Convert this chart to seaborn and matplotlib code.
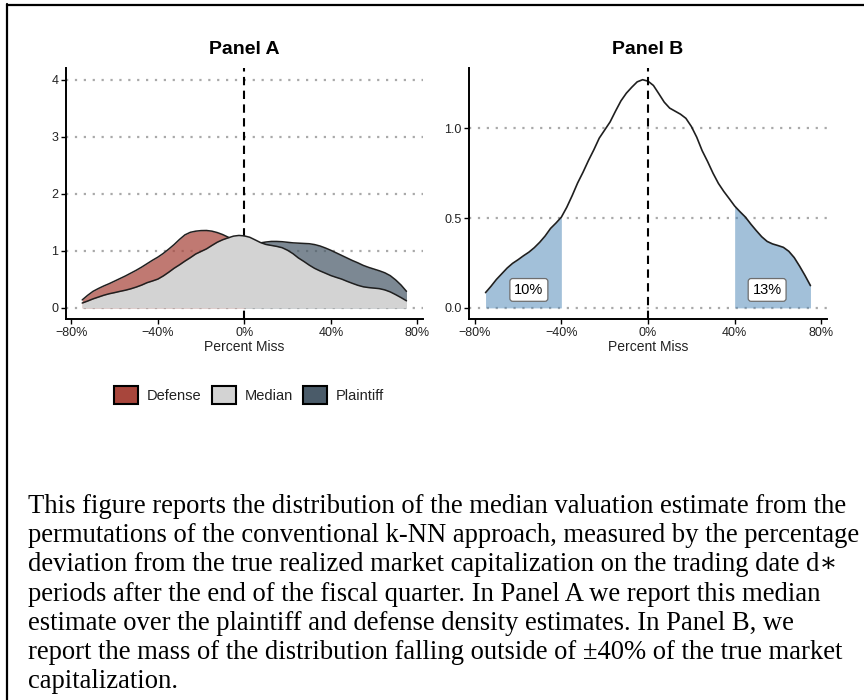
import numpy as np
import matplotlib
matplotlib.use("Agg")
import matplotlib.pyplot as plt
from matplotlib.lines import Line2D
from matplotlib.patches import Patch
import seaborn as sns

# ---------------------------------------------------------------------------
# Density estimates of the percentage miss (fraction of true market cap)
# ---------------------------------------------------------------------------
x_grid = [-0.750, -0.725, -0.700, -0.675, -0.650, -0.625, -0.600, -0.575,
          -0.550, -0.525, -0.500, -0.475, -0.450, -0.425, -0.400, -0.375,
          -0.350, -0.325, -0.300, -0.275, -0.250, -0.225, -0.200, -0.175,
          -0.150, -0.125, -0.100, -0.075, -0.050, -0.025, 0.000, 0.025,
          0.050, 0.075, 0.100, 0.125, 0.150, 0.175, 0.200, 0.225,
          0.250, 0.275, 0.300, 0.325, 0.350, 0.375, 0.400, 0.425,
          0.450, 0.475, 0.500, 0.525, 0.550, 0.575, 0.600, 0.625,
          0.650, 0.675, 0.700, 0.725, 0.750]

median_density = [0.085, 0.120, 0.158, 0.190, 0.222, 0.248, 0.268, 0.290,
                  0.310, 0.335, 0.365, 0.400, 0.442, 0.472, 0.505, 0.560,
                  0.625, 0.695, 0.755, 0.820, 0.880, 0.945, 0.990, 1.035,
                  1.095, 1.152, 1.195, 1.228, 1.258, 1.270, 1.262, 1.238,
                  1.192, 1.145, 1.112, 1.095, 1.078, 1.055, 1.010, 0.950,
                  0.875, 0.815, 0.750, 0.693, 0.648, 0.608, 0.567, 0.535,
                  0.505, 0.466, 0.430, 0.396, 0.370, 0.356, 0.347, 0.337,
                  0.315, 0.280, 0.232, 0.180, 0.124]

# defense density (left half of the grid, -75% .. 0%)
defense_x = x_grid[:31]
defense_density = [0.140, 0.220, 0.290, 0.340, 0.385, 0.425, 0.470, 0.515,
                   0.560, 0.610, 0.660, 0.715, 0.775, 0.835, 0.890, 0.955,
                   1.030, 1.110, 1.200, 1.280, 1.325, 1.345, 1.355, 1.357,
                   1.345, 1.320, 1.285, 1.240, 1.180, 1.110, 1.030]

# plaintiff density (right half of the grid, 0% .. 75%)
plaintiff_x = x_grid[30:]
plaintiff_density = [1.000, 1.050, 1.100, 1.140, 1.155, 1.165, 1.165, 1.160,
                     1.150, 1.140, 1.135, 1.130, 1.125, 1.110, 1.085, 1.050,
                     1.010, 0.965, 0.920, 0.875, 0.830, 0.790, 0.745, 0.710,
                     0.680, 0.650, 0.615, 0.565, 0.490, 0.400, 0.290]

groups = ["Defense", "Median", "Plaintiff"]
tail_cutoff = 0.40
tail_mass = [0.10, 0.13]

x_ticks = [-0.8, -0.4, 0.0, 0.4, 0.8]
x_tick_labels = ["\u221280%", "\u221240%", "0%", "40%", "80%"]
a_y_ticks = [0, 1, 2, 3, 4]
a_y_tick_labels = ["0", "1", "2", "3", "4"]
b_y_ticks = [0.0, 0.5, 1.0]
b_y_tick_labels = ["0.0", "0.5", "1.0"]

caption_lines = [
    "This figure reports the distribution of the median valuation estimate from the",
    "permutations of the conventional k-NN approach, measured by the percentage",
    "deviation from the true realized market capitalization on the trading date d\u2217",
    "periods after the end of the fiscal quarter. In Panel A we report this median",
    "estimate over the plaintiff and defense density estimates. In Panel B, we",
    "report the mass of the distribution falling outside of \u00b140% of the true market",
    "capitalization.",
]

# ---------------------------------------------------------------------------
# Styling
# ---------------------------------------------------------------------------
sns.set_theme(style="white")
plt.rcParams["font.family"] = ["Liberation Sans", "DejaVu Sans"]

W, H = 864, 700
fig = plt.figure(figsize=(W / 100, H / 100), dpi=100)
fig.patch.set_facecolor("white")

legend_colors = {"Defense": "#a8463c", "Median": "#d3d3d3", "Plaintiff": "#4a5b69"}
fill_alpha = {"Defense": 0.72, "Median": 1.0, "Plaintiff": 0.72}
outline = "#1f1f1f"
tick_color = "#222222"
grid_kw = dict(color="#a9a9a9", lw=1.6, ls=(0, (1, 3)))
vline_kw = dict(color="black", lw=1.5, ls=(0, (4, 2.6)))
shade_color = "steelblue"


def px_rect(x0, y0, x1, y1):
    """Axes rectangle from pixel corners (origin top-left)."""
    return [x0 / W, 1 - y1 / H, (x1 - x0) / W, (y1 - y0) / H]


def style_axes(ax, yticks, ylabels):
    for side in ("top", "right"):
        ax.spines[side].set_visible(False)
    for side in ("left", "bottom"):
        ax.spines[side].set_color("black")
        ax.spines[side].set_linewidth(1.4)
        ax.spines[side].set_zorder(8)
    ax.set_xlim(-0.825, 0.825)
    ax.set_xticks(x_ticks)
    ax.set_xticklabels(x_tick_labels)
    ax.set_yticks(yticks)
    ax.set_yticklabels(ylabels)
    ax.tick_params(axis="both", direction="out", length=3.5, width=1.0,
                   color="black", labelsize=9, labelcolor=tick_color, pad=2,
                   bottom=True, left=True)
    for y in yticks:
        ax.axhline(y, zorder=0.5, **grid_kw)
    ax.set_xlabel("Percent Miss", fontsize=10, color=tick_color, labelpad=1)
    ax.set_ylabel("")
    ax.set_facecolor("white")


# ---------------------------------------------------------------------------
# Panel A: defense / median / plaintiff densities
# ---------------------------------------------------------------------------
axA = fig.add_axes(px_rect(66, 68.3, 422.7, 319.3))
axA.axvline(0, zorder=1, **vline_kw)

series = {
    "Defense": (defense_x, defense_density),
    "Plaintiff": (plaintiff_x, plaintiff_density),
    "Median": (x_grid, median_density),
}
for z, name in enumerate(["Defense", "Plaintiff", "Median"]):
    xs, ys = series[name]
    axA.fill_between(xs, 0, ys, color=legend_colors[name],
                     alpha=fill_alpha[name], lw=0, zorder=2 + z)
    sns.lineplot(x=xs, y=ys, ax=axA, color=outline, lw=1.1,
                 zorder=2.5 + z, legend=False)

axA.set_ylim(-0.2, 4.2)
style_axes(axA, a_y_ticks, a_y_tick_labels)
axA.set_title("Panel A", fontsize=14, fontweight="bold", color="black", pad=10)

# ---------------------------------------------------------------------------
# Panel B: median density with mass outside +/-40%
# ---------------------------------------------------------------------------
axB = fig.add_axes(px_rect(469.3, 68.3, 826.7, 319.3))
axB.axvline(0, zorder=4, **vline_kw)

xg = np.array(x_grid)
md = np.array(median_density)
axB.fill_between(xg, 0, md, where=xg <= -tail_cutoff, color=shade_color,
                 alpha=0.5, lw=0, zorder=2)
axB.fill_between(xg, 0, md, where=xg >= tail_cutoff, color=shade_color,
                 alpha=0.5, lw=0, zorder=2)
sns.lineplot(x=x_grid, y=median_density, ax=axB, color=outline, lw=1.2,
             zorder=3, legend=False)

label_pos = [(-0.55, 0.10), (0.55, 0.10)]
for (lx, ly), mass in zip(label_pos, tail_mass):
    axB.text(lx, ly, f"{mass:.0%}", ha="center", va="center", fontsize=10.5,
             color="black", zorder=6,
             bbox=dict(boxstyle="round,pad=0.3,rounding_size=0.2",
                       fc="white", ec="#6e6e6e", lw=0.9))

ymax = max(median_density)
axB.set_ylim(-0.05 * ymax, 1.05 * ymax)
style_axes(axB, b_y_ticks, b_y_tick_labels)
axB.set_title("Panel B", fontsize=14, fontweight="bold", color="black", pad=10)

# ---------------------------------------------------------------------------
# Legend under panel A
# ---------------------------------------------------------------------------
handles = [Patch(facecolor=legend_colors[g], edgecolor="black", lw=1.5,
                 label=g) for g in groups]
fig.legend(handles=handles, loc="center", bbox_to_anchor=(249 / W, 1 - 395 / H),
           ncol=3, frameon=False, fontsize=10.5, handlelength=1.65,
           handleheight=1.5, handletextpad=0.6, columnspacing=0.7,
           labelcolor=tick_color)

# ---------------------------------------------------------------------------
# Caption and page frame
# ---------------------------------------------------------------------------
serif = ["Liberation Serif", "DejaVu Serif"]
for i, line in enumerate(caption_lines):
    fig.text(28 / W, 1 - (513 + 29.2 * i) / H, line, ha="left", va="baseline",
             fontsize=19.2, family=serif, color="black")

fig.add_artist(Line2D([7 / W, 7 / W], [0, 1 - 4 / H], transform=fig.transFigure,
                      color="black", lw=1.6))
fig.add_artist(Line2D([7 / W, 1], [1 - 4.5 / H, 1 - 4.5 / H],
                      transform=fig.transFigure, color="black", lw=1.6))

fig.savefig("out.png", dpi=100)
